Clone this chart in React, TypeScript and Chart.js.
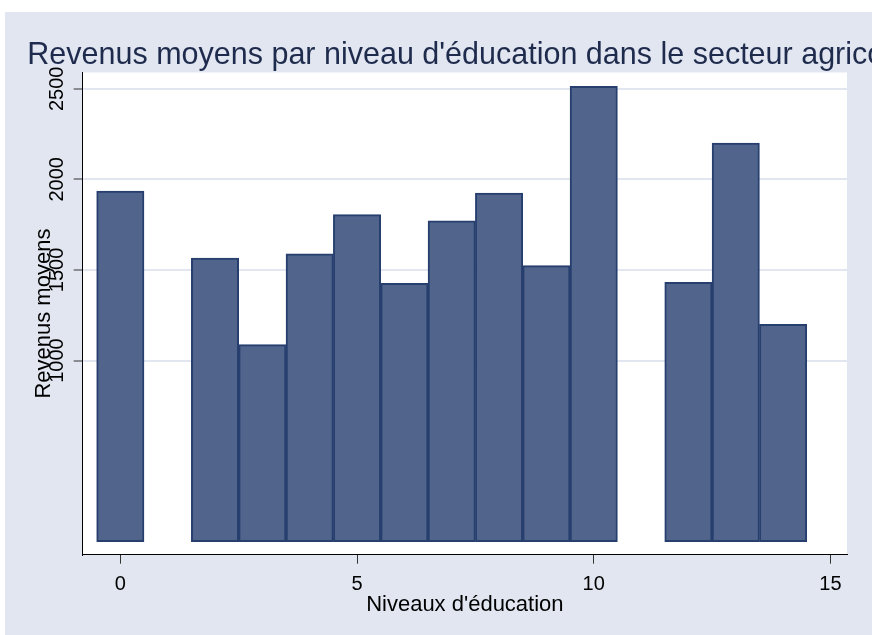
import React, { useEffect, useRef } from 'react';
import { Chart, registerables } from 'chart.js';

Chart.register(...registerables);

const educationLevels = [0, 2, 3, 4, 5, 6, 7, 8, 9, 10, 12, 13, 14];
const meanIncome = [1935, 1566, 1088, 1589, 1805, 1426, 1771, 1925, 1524, 2514, 1431, 2201, 1200];
const xTickValues = [0, 5, 10, 15];
const yTickValues = [1000, 1500, 2000, 2500];
const chartTitle = "Revenus moyens par niveau d'éducation dans le secteur agricole";
const xAxisTitle = "Niveaux d'éducation";
const yAxisTitle = 'Revenus moyens';

const FONT = '"Liberation Sans", Arial, Helvetica, sans-serif';
const BG = '#E1E6F0';
const GRID = '#E1E6F0';
const BAR_FILL = '#51648B';
const BAR_LINE = '#273F6F';
const TITLE_COLOR = '#1F2B4D';

const W = 867;
const H = 623;

const backgroundAndTitle = {
  id: 'backgroundAndTitle',
  beforeDraw(chart: any) {
    const { ctx, width, height, chartArea } = chart;
    ctx.save();
    ctx.fillStyle = BG;
    ctx.fillRect(0, 0, width, height);
    ctx.fillStyle = '#ffffff';
    ctx.fillRect(chartArea.left, chartArea.top, chartArea.right - chartArea.left, chartArea.bottom - chartArea.top);
    ctx.restore();
  },
  afterDraw(chart: any) {
    const { ctx } = chart;
    ctx.save();
    ctx.font = `30.5px ${FONT}`;
    ctx.fillStyle = TITLE_COLOR;
    ctx.textAlign = 'left';
    ctx.textBaseline = 'alphabetic';
    ctx.fillText(chartTitle, 22.3, 52);
    ctx.restore();
  },
};

export default function App() {
  const canvasRef = useRef<HTMLCanvasElement | null>(null);

  useEffect(() => {
    if (!canvasRef.current) return;
    const chart = new Chart(canvasRef.current, {
      type: 'bar',
      data: {
        datasets: [
          {
            label: yAxisTitle,
            data: educationLevels.map((x, i) => ({ x, y: meanIncome[i] })),
            backgroundColor: BAR_FILL,
            borderColor: BAR_LINE,
            borderWidth: 2,
            borderSkipped: false,
            barPercentage: 1,
            categoryPercentage: 1,
          } as any,
        ],
      },
      options: {
        animation: false,
        responsive: false,
        maintainAspectRatio: false,
        layout: { padding: { top: 60.5, right: 25, left: 0, bottom: 0 } },
        plugins: {
          legend: { display: false },
          tooltip: { enabled: false },
          title: { display: false },
        },
        scales: {
          x: {
            type: 'linear',
            min: -0.795,
            max: 15.35,
            offset: false,
            afterBuildTicks: (s: any) => {
              s.ticks = xTickValues.map((v) => ({ value: v }));
            },
            afterFit: (s: any) => {
              s.height = H - 542.7;
            },
            grid: {
              offset: false,
              drawOnChartArea: false,
              drawTicks: true,
              tickLength: 9,
              tickColor: '#333333',
              tickWidth: 1,
            },
            border: { display: true, color: '#000000', width: 1 },
            ticks: {
              autoSkip: false,
              maxRotation: 0,
              padding: 9,
              color: '#000000',
              font: { family: FONT, size: 20 },
              callback: (v: any) => String(v),
            },
            title: {
              display: true,
              text: xAxisTitle,
              color: '#000000',
              font: { family: FONT, size: 22 },
              padding: { top: 0, bottom: 16.5 },
            },
          },
          y: {
            type: 'linear',
            min: -72,
            max: 2590,
            afterBuildTicks: (s: any) => {
              s.ticks = yTickValues.map((v) => ({ value: v }));
            },
            afterFit: (s: any) => {
              s.width = 77.7;
            },
            grid: {
              color: GRID,
              lineWidth: 2,
              drawTicks: true,
              tickLength: 9,
              tickColor: '#333333',
              tickWidth: 1,
            },
            border: { display: true, color: '#000000', width: 1 },
            ticks: {
              minRotation: 90,
              maxRotation: 90,
              crossAlign: 'center',
              padding: -6,
              color: '#000000',
              font: { family: FONT, size: 20 },
              callback: (v: any) => String(v),
            },
            title: {
              display: true,
              text: yAxisTitle,
              color: '#000000',
              font: { family: FONT, size: 22 },
              padding: { top: 26, bottom: 0 },
            },
          },
        },
      } as any,
      plugins: [backgroundAndTitle],
    });
    return () => chart.destroy();
  }, []);

  return (
    <div style={{ position: 'absolute', left: 5, top: 12, width: W, height: H }}>
      <canvas ref={canvasRef} width={W} height={H} style={{ display: 'block', width: W, height: H }} />
    </div>
  );
}
